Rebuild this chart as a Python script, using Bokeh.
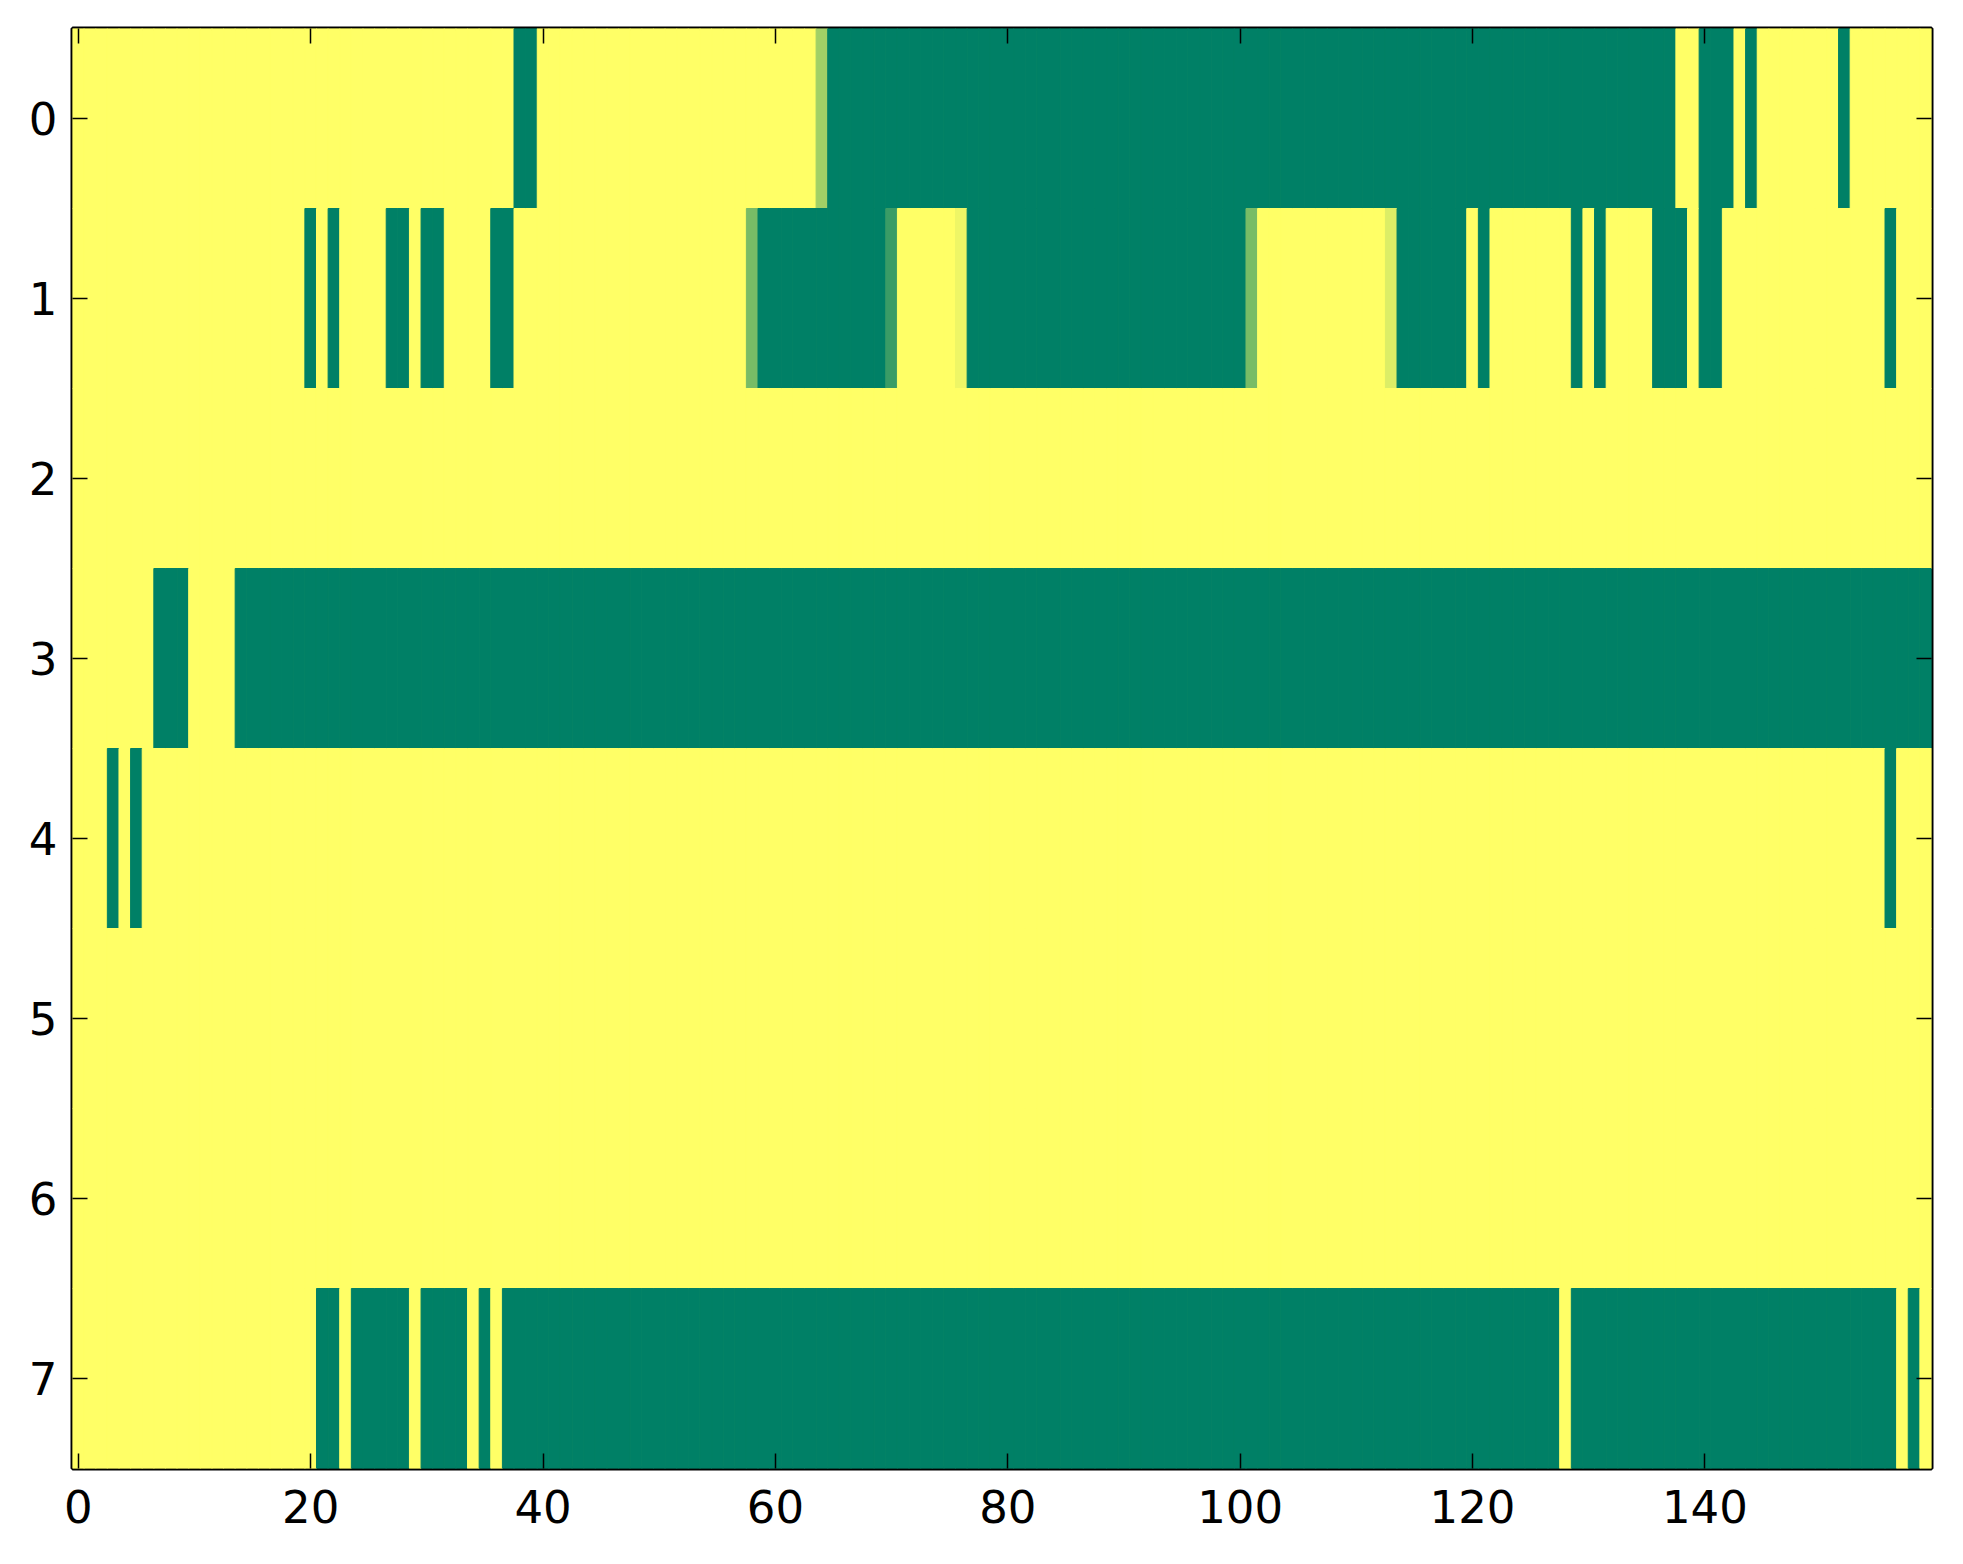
import numpy as np
from bokeh.plotting import figure
from bokeh.models import (Range1d, FixedTicker, LinearAxis, ColumnDataSource,
                          CustomJSTickFormatter)
from bokeh.transform import linear_cmap
from bokeh.embed import file_html
from bokeh.resources import INLINE

# ---- data: 8 rows x 160 columns (1 = yellow, 0 = green) ----
row0 = [1]*38 + [0]*2 + [1]*24 + [0.63] + [0]*73 + [1]*2 + [0]*3 + [1] + [0] + [1]*7 + [0] + [1]*7
row1 = ([1]*20 + [0] + [1] + [0] + [1]*4 + [0]*2 + [1] + [0]*2 + [1]*4 + [0]*2 + [1]*20
        + [0.47] + [0]*11 + [0.23] + [1]*5 + [0.93] + [0]*24 + [0.47] + [1]*11 + [0.86]
        + [0]*6 + [1] + [0] + [1]*7 + [0] + [1] + [0] + [1]*4 + [0]*3 + [1] + [0]*2
        + [1]*14 + [0] + [1]*3)
row2 = [1]*160
row3 = [1]*7 + [0]*3 + [1]*4 + [0]*146
row4 = [1]*3 + [0] + [1] + [0] + [1]*150 + [0] + [1]*3
row5 = [1]*160
row6 = [1]*160
row7 = ([1]*21 + [0]*2 + [1] + [0]*5 + [1] + [0]*4 + [1] + [0] + [1] + [0]*91 + [1]
        + [0]*28 + [1] + [0] + [1])
rows = [row0, row1, row2, row3, row4, row5, row6, row7]

x_ticks = [0, 20, 40, 60, 80, 100, 120, 140]
y_ticks = [0, 1, 2, 3, 4, 5, 6, 7]

# matplotlib "summer" colormap
summer = ["#%02x%02x%02x" % (int(round(255 * t)), int(round(255 * (0.5 + 0.5 * t))), 102)
          for t in np.linspace(0, 1, 256)]

xs, ys, vs = [], [], []
for r, row in enumerate(rows):
    for c, v in enumerate(row):
        xs.append(c)
        ys.append(r)
        vs.append(v)
src = ColumnDataSource(dict(x=xs, y=ys, v=vs))

ncols = len(row0)
nrows = len(rows)

p = figure(x_range=Range1d(-0.5, ncols - 0.5), y_range=Range1d(nrows - 0.5, -0.5),
           frame_width=1859, frame_height=1440,
           min_border_left=72, min_border_right=12, min_border_top=28, min_border_bottom=75,
           output_backend="svg", toolbar_location=None, background_fill_color="#ffff66")

cmap = linear_cmap("v", summer, 0, 1)
p.rect(x="x", y="y", width=1, height=1, source=src,
       fill_color=cmap, line_color=cmap, line_width=1)

p.grid.visible = False
p.outline_line_color = "black"
p.outline_line_width = 4

font = "DejaVu Sans"
for ax in [p.xaxis[0], p.yaxis[0]]:
    ax.axis_line_color = None
    ax.major_tick_in = 15
    ax.major_tick_out = 0
    ax.major_tick_line_width = 1.5
    ax.minor_tick_line_color = None
    ax.major_label_text_font = font
    ax.major_label_text_font_size = "45px"
    ax.major_label_text_color = "black"
p.xaxis[0].ticker = FixedTicker(ticks=x_ticks)
p.yaxis[0].ticker = FixedTicker(ticks=y_ticks)
p.xaxis[0].major_label_standoff = 21
p.yaxis[0].major_label_standoff = 15

blank = CustomJSTickFormatter(code="return ''")
top = LinearAxis(ticker=FixedTicker(ticks=x_ticks), formatter=blank)
right = LinearAxis(ticker=FixedTicker(ticks=y_ticks), formatter=blank)
for ax in [top, right]:
    ax.axis_line_color = None
    ax.major_tick_in = 15
    ax.major_tick_out = 0
    ax.major_tick_line_width = 1.5
    ax.minor_tick_line_color = None
    ax.major_label_text_font_size = "1px"
    ax.major_label_standoff = 0
p.add_layout(top, "above")
p.add_layout(right, "right")

open("out.html", "w").write(file_html(p, INLINE))
